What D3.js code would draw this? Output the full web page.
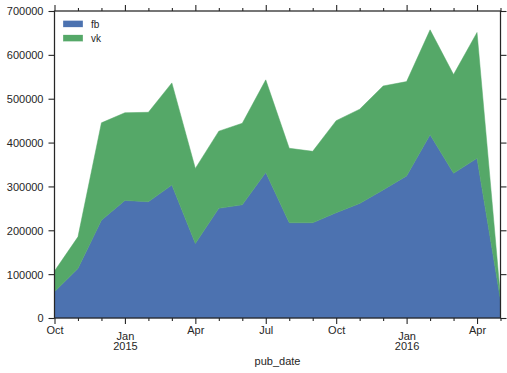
<!DOCTYPE html>
<html><head><meta charset="utf-8">
<script src="https://cdn.jsdelivr.net/npm/d3@7"></script>
<style>
body{margin:0;background:#fff;}
svg text{font-family:"Liberation Sans",Arial,sans-serif;fill:#262626;}
</style></head>
<body><svg id="c" width="507" height="373"></svg>
<script>
const months = ["2014-10","2014-11","2014-12","2015-01","2015-02","2015-03","2015-04","2015-05","2015-06","2015-07","2015-08","2015-09","2015-10","2015-11","2015-12","2016-01","2016-02","2016-03","2016-04","2016-05"];
const fb = [60000,113000,223000,268000,265000,303000,170000,250000,258000,332000,217000,217000,240000,261000,292000,324000,418000,330000,364000,41000];
const vk = [47000,72000,222000,200000,204000,233000,171000,176000,186000,211000,170000,163000,210000,215000,237000,215000,239000,225000,287000,7000];
const majorTicks = [0,3,6,9,12,15,18];
const majorLabels = [["Oct"],["Jan","2015"],["Apr"],["Jul"],["Oct"],["Jan","2016"],["Apr"]];
const yTicks = [0,100000,200000,300000,400000,500000,600000,700000];
const seriesNames = ["fb","vk"];
const colors = ["#4C72B0","#55A868"];
const xLabel = "pub_date";

const L=54.5,R=500.5,T=11,B=318;
const svg=d3.select("#c");
const x=d3.scaleLinear().domain([0,months.length-1]).range([L,R]);
const y=d3.scaleLinear().domain([0,700000]).range([B,T]);

const table=months.map((m,i)=>({m,i,fb:fb[i],vk:vk[i]}));
const stacked=d3.stack().keys(seriesNames)(table);
const area=d3.area().x(d=>x(d.data.i)).y0(d=>y(d[0])).y1(d=>y(d[1]));
svg.append("g").selectAll("path").data(stacked).join("path")
  .attr("d",area).attr("fill",(d,i)=>colors[i]).attr("stroke",(d,i)=>colors[i]).attr("stroke-width",0.5);

const stroke="#262626";
function styleAxis(g){
  g.select(".domain").remove();
  g.selectAll("line").attr("stroke",stroke).attr("stroke-width",1.1);
  g.selectAll("text").attr("font-size","11px").style("fill",stroke);
}
const allMonths=d3.range(months.length);
const minor=allMonths.filter(i=>!majorTicks.includes(i));
// bottom
const gb=svg.append("g").attr("transform",`translate(0,${B})`);
gb.call(d3.axisBottom(x).tickValues(minor).tickSize(3).tickFormat(""));
gb.call(g=>styleAxis(g));
const gbM=svg.append("g").attr("transform",`translate(0,${B})`);
gbM.call(d3.axisBottom(x).tickValues(majorTicks).tickSize(6).tickFormat(""));
styleAxis(gbM);
gbM.selectAll(".tick").each(function(d,k){
  const t=d3.select(this).append("text").attr("text-anchor","middle").attr("font-size","11px").style("fill",stroke);
  const lab=majorLabels[k];
  if(lab.length===1){t.append("tspan").attr("x",0).attr("y",16).text(lab[0]);}
  else{t.append("tspan").attr("x",0).attr("y",22).text(lab[0]);t.append("tspan").attr("x",0).attr("y",32).text(lab[1]);}
});
// top
const gt=svg.append("g").attr("transform",`translate(0,${T})`);
gt.call(d3.axisTop(x).tickValues(minor).tickSize(3).tickFormat(""));styleAxis(gt);
const gtM=svg.append("g").attr("transform",`translate(0,${T})`);
gtM.call(d3.axisTop(x).tickValues(majorTicks).tickSize(6).tickFormat(""));styleAxis(gtM);
// left
const gl=svg.append("g").attr("transform",`translate(${L},0)`);
gl.call(d3.axisLeft(y).tickValues(yTicks).tickSize(6).tickPadding(5).tickFormat(d3.format("d")));styleAxis(gl);
gl.selectAll("text").attr("dy","0.36em");
// right
const gr=svg.append("g").attr("transform",`translate(${R},0)`);
gr.call(d3.axisRight(y).tickValues(yTicks).tickSize(6).tickFormat(""));styleAxis(gr);

// frame
svg.append("rect").attr("x",L).attr("y",T).attr("width",R-L).attr("height",B-T)
  .attr("fill","none").attr("stroke",stroke).attr("stroke-width",1.25);

svg.append("text").attr("x",(L+R)/2).attr("y",365).attr("text-anchor","middle").attr("font-size","11px").text(xLabel);

// legend
const lg=svg.append("g");
seriesNames.forEach((n,i)=>{
  lg.append("rect").attr("x",63).attr("y",20.5+i*14.3).attr("width",20).attr("height",6.7).attr("fill",colors[i]).attr("stroke","#fff").attr("stroke-width",0.3);
  lg.append("text").attr("x",91).attr("y",28+i*14.3).attr("font-size","10px").text(n);
});
</script></body></html>
